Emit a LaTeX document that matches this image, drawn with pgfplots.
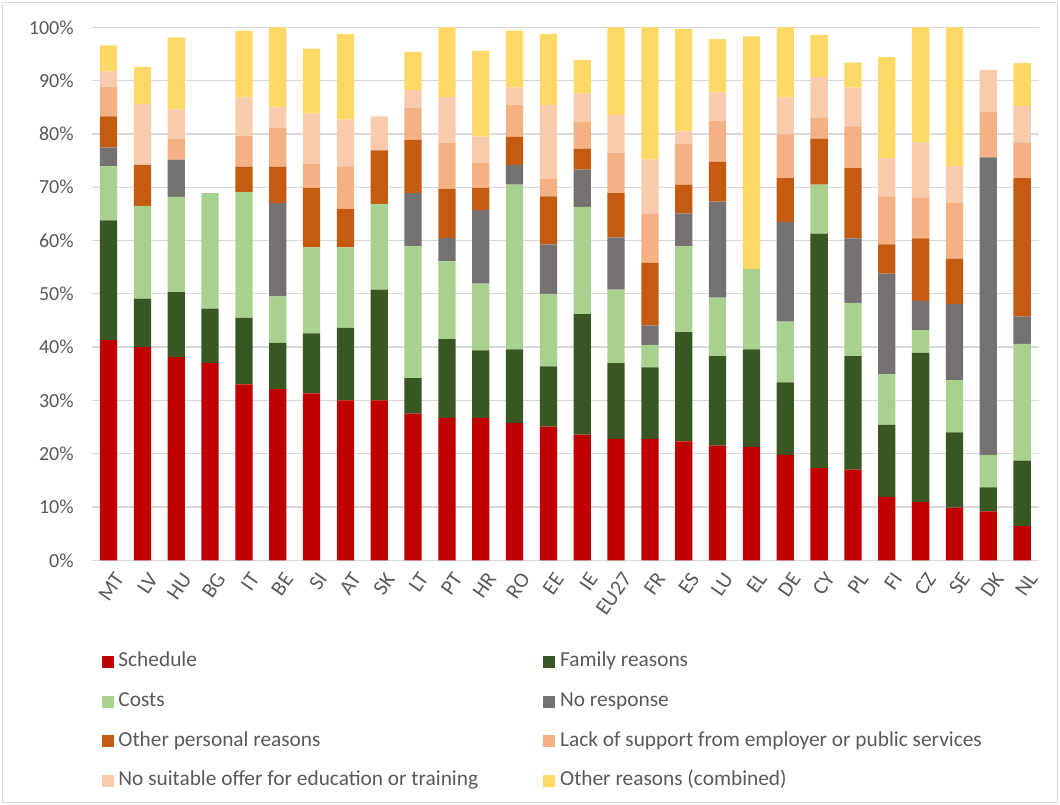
\documentclass[border=0pt]{standalone}
\usepackage{pgfplots}
\pgfplotsset{compat=1.18}
\usepackage{pgfplotstable}
\usepackage{fontspec}
\setmainfont{Carlito}
\definecolor{cSched}{HTML}{C00000}
\definecolor{cFam}{HTML}{385723}
\definecolor{cCost}{HTML}{A9D18E}
\definecolor{cNoResp}{HTML}{767171}
\definecolor{cOthPers}{HTML}{C55A11}
\definecolor{cLack}{HTML}{F4B183}
\definecolor{cNoSuit}{HTML}{F8CBAD}
\definecolor{cOther}{HTML}{FFD966}
\definecolor{cGrid}{HTML}{D9D9D9}
\definecolor{cText}{HTML}{595959}

\pgfplotstableread{
idx S F C NR OP L NS OR
0 41.3 22.5 10.1 3.6 5.8 5.5 2.9 4.9
1 40.0 9.1 17.4 0 7.7 0 11.4 7.0
2 38.1 12.2 17.9 7.0 0 3.9 5.5 13.5
3 37.0 10.2 21.7 0 0 0 0 0
4 33.0 12.5 23.6 0 4.7 5.9 7.1 12.6
5 32.1 8.7 8.7 17.5 6.8 7.3 3.9 15.0
6 31.3 11.3 16.1 0 11.2 4.5 9.4 12.2
7 30.0 13.6 15.1 0 7.2 8.0 8.8 16.1
8 30.0 20.8 16.1 0 10.0 0 6.4 0
9 27.5 6.7 24.7 10.0 10.0 6.0 3.3 7.2
10 26.7 14.8 14.6 4.4 9.2 8.6 8.6 13.1
11 26.7 12.7 12.5 13.8 4.2 4.7 4.9 16.1
12 25.8 13.8 30.9 3.7 5.3 5.9 3.3 10.7
13 25.1 11.3 13.6 9.3 9.0 3.2 13.9 13.4
14 23.6 22.6 20.1 7.0 3.9 5.0 5.4 6.3
15 22.8 14.2 13.8 9.8 8.3 7.6 7.1 16.4
16 22.8 13.4 4.2 3.7 11.7 9.3 10.1 24.8
17 22.3 20.5 16.1 6.2 5.4 7.6 2.4 19.2
18 21.5 16.8 11.0 18.0 7.5 7.6 5.4 10.0
19 21.3 18.3 15.1 0 0 0 0 43.6
20 19.8 13.6 11.4 18.7 8.2 8.2 6.9 13.2
21 17.3 44.0 9.2 0 8.6 3.9 7.7 7.9
22 17.0 21.3 10.0 12.1 13.2 7.8 7.3 4.7
23 11.9 13.5 9.5 18.9 5.5 9.0 7.2 18.9
24 10.9 28.0 4.3 5.5 11.7 7.7 10.3 21.6
25 9.9 14.1 9.8 14.3 8.5 10.4 7.0 26.0
26 9.2 4.5 6.1 55.8 0 8.6 7.8 0
27 6.4 12.3 21.9 5.1 26.0 6.7 6.8 8.1
}\data

\begin{document}
\begin{tikzpicture}
\useasboundingbox (0pt,0pt) rectangle (795pt,603.75pt);
\draw[color=cGrid, line width=0.75pt] (1.9pt,1.9pt) rectangle (793.1pt,601.85pt);
\begin{axis}[
  at={(68.775pt,183.525pt)}, anchor=south west,
  width=710.5pt, height=399.7pt, scale only axis,
  ybar stacked, bar width=0.51,
  xmin=-0.5, xmax=27.5, ymin=0, ymax=100,
  xtick={0,...,27},
  xticklabels={MT,LV,HU,BG,IT,BE,SI,AT,SK,LT,PT,HR,RO,EE,IE,EU27,FR,ES,LU,EL,DE,CY,PL,FI,CZ,SE,DK,NL},
  ytick={0,10,...,100},
  yticklabels={0\%,10\%,20\%,30\%,40\%,50\%,60\%,70\%,80\%,90\%,100\%},
  axis line style={draw=none},
  major tick length=0pt,
  ymajorgrids, grid style={color=cGrid, line width=1pt},
  tick label style={color=cText, font=\fontsize{15}{18}\selectfont},
  xticklabel style={rotate=55, anchor=east, xshift=-1pt, yshift=-13pt, font=\fontsize{16}{19}\selectfont},
  yticklabel style={anchor=east, xshift=-10pt},
  legend columns=2,
  legend cell align=left,
  legend image code/.code={\draw[#1,draw=none] (0pt,-4.5pt) rectangle (9pt,4.5pt);},
  legend style={at={(0.0106,-0.172)}, anchor=north west, draw=none, fill=none,
    inner sep=0pt, outer sep=0pt, text=cText, font=\fontsize{16}{19}\selectfont,
    nodes={inner xsep=3.5pt, inner ysep=0pt, text height=11pt, text depth=4pt},
    row sep=14.8pt,
    /tikz/every even column/.append style={column sep=45.5pt}},
]
\addplot[fill=cSched, draw=none] table[x=idx,y=S]{\data};
\addplot[fill=cFam, draw=none] table[x=idx,y=F]{\data};
\addplot[fill=cCost, draw=none] table[x=idx,y=C]{\data};
\addplot[fill=cNoResp, draw=none] table[x=idx,y=NR]{\data};
\addplot[fill=cOthPers, draw=none] table[x=idx,y=OP]{\data};
\addplot[fill=cLack, draw=none] table[x=idx,y=L]{\data};
\addplot[fill=cNoSuit, draw=none] table[x=idx,y=NS]{\data};
\addplot[fill=cOther, draw=none] table[x=idx,y=OR]{\data};
\legend{Schedule,Family reasons,Costs,No response,Other personal reasons,Lack of support from employer or public services,No suitable offer for education or training,Other reasons (combined)}
\end{axis}
\end{tikzpicture}
\end{document}
